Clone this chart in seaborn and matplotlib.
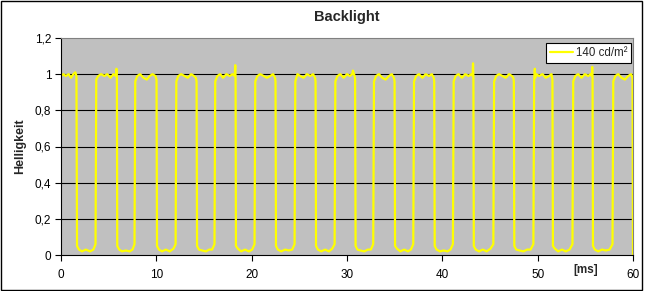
import matplotlib
matplotlib.use("Agg")
import matplotlib.pyplot as plt
import seaborn as sns
import pandas as pd
from matplotlib.patches import Rectangle

# ---------------- data ----------------
time_ms = [
    0.00, 0.25, 0.50, 0.80, 1.05, 1.30, 1.50, 1.62, 1.68,
    1.88, 2.20, 2.60, 3.05, 3.40, 3.62,
    3.70, 3.90, 4.20, 4.55, 4.85, 5.20, 5.50, 5.75, 5.82, 5.86, 5.90,
    6.10, 6.40, 6.80, 7.20, 7.50, 7.71,
    7.79, 8.00, 8.30, 8.65, 9.00, 9.30, 9.60, 9.90, 10.02, 10.07,
    10.27, 10.60, 11.00, 11.40, 11.80, 12.02,
    12.10, 12.30, 12.60, 12.95, 13.30, 13.65, 13.95, 14.15, 14.22, 14.27,
    14.47, 14.80, 15.20, 15.55, 15.85, 16.10,
    16.18, 16.40, 16.70, 17.00, 17.35, 17.70, 18.00, 18.22, 18.28, 18.31, 18.35,
    18.55, 18.90, 19.30, 19.70, 20.05, 20.30,
    20.38, 20.60, 20.90, 21.25, 21.60, 21.95, 22.25, 22.45, 22.50, 22.55,
    22.75, 23.10, 23.50, 23.90, 24.25, 24.50,
    24.58, 24.80, 25.10, 25.45, 25.80, 26.15, 26.45, 26.65, 26.70, 26.75,
    26.95, 27.30, 27.70, 28.10, 28.45, 28.70,
    28.78, 29.00, 29.30, 29.65, 30.00, 30.30, 30.55, 30.62, 30.80, 30.85, 30.90,
    31.10, 31.40, 31.80, 32.20, 32.50, 32.75,
    32.83, 33.05, 33.35, 33.70, 34.05, 34.40, 34.70, 34.92, 34.99, 35.04,
    35.24, 35.60, 36.00, 36.40, 36.70, 36.95,
    37.03, 37.25, 37.55, 37.90, 38.25, 38.60, 38.90, 39.10, 39.15, 39.20,
    39.40, 39.75, 40.15, 40.55, 40.85, 41.11,
    41.19, 41.40, 41.70, 42.05, 42.40, 42.75, 43.05, 43.18, 43.22, 43.26, 43.30,
    43.50, 43.85, 44.25, 44.65, 45.05, 45.35,
    45.43, 45.65, 45.95, 46.30, 46.65, 47.00, 47.30, 47.45, 47.50, 47.55,
    47.75, 48.10, 48.50, 48.90, 49.25, 49.55,
    49.63, 49.70, 49.74, 49.85, 50.15, 50.50, 50.85, 51.20, 51.45, 51.55, 51.60,
    51.80, 52.15, 52.55, 52.95, 53.35, 53.65,
    53.73, 53.95, 54.25, 54.60, 54.95, 55.30, 55.55, 55.68, 55.72, 55.76, 55.80,
    56.00, 56.35, 56.75, 57.15, 57.55, 57.85,
    57.93, 58.15, 58.45, 58.80, 59.15, 59.50, 59.80, 59.95, 60.00,
]

brightness = [
    0.99, 1.00, 0.99, 1.00, 0.98, 1.00, 1.01, 0.99, 0.05,
    0.03, 0.02, 0.03, 0.02, 0.03, 0.06,
    0.97, 0.99, 1.00, 0.99, 1.00, 0.98, 1.00, 0.99, 1.03, 0.98, 0.05,
    0.03, 0.02, 0.025, 0.02, 0.03, 0.06,
    0.96, 0.99, 1.00, 0.98, 0.97, 0.99, 1.00, 0.99, 0.97, 0.05,
    0.03, 0.02, 0.03, 0.02, 0.035, 0.06,
    0.96, 0.99, 1.00, 0.99, 0.98, 1.00, 0.99, 0.98, 0.96, 0.05,
    0.03, 0.025, 0.02, 0.03, 0.03, 0.06,
    0.96, 0.99, 1.00, 0.98, 1.00, 0.99, 1.00, 0.99, 1.05, 0.98, 0.05,
    0.035, 0.02, 0.03, 0.02, 0.03, 0.06,
    0.96, 0.99, 1.00, 0.99, 0.98, 0.99, 1.00, 0.98, 0.96, 0.05,
    0.03, 0.02, 0.03, 0.025, 0.03, 0.06,
    0.96, 1.00, 0.99, 0.98, 1.00, 0.99, 1.00, 0.98, 0.96, 0.05,
    0.03, 0.02, 0.03, 0.02, 0.035, 0.06,
    0.96, 0.99, 1.00, 0.98, 1.00, 0.99, 1.00, 1.02, 0.99, 0.97, 0.05,
    0.03, 0.025, 0.02, 0.03, 0.03, 0.06,
    0.96, 0.99, 1.00, 0.98, 0.97, 0.99, 1.00, 0.98, 0.96, 0.05,
    0.035, 0.02, 0.03, 0.02, 0.03, 0.06,
    0.96, 0.99, 1.00, 0.98, 1.00, 0.99, 1.00, 0.98, 0.96, 0.05,
    0.03, 0.02, 0.025, 0.02, 0.03, 0.06,
    0.96, 0.99, 1.00, 0.98, 1.00, 0.99, 1.00, 0.99, 1.06, 0.98, 0.05,
    0.03, 0.02, 0.03, 0.02, 0.035, 0.06,
    0.96, 0.99, 1.00, 0.99, 0.98, 1.00, 0.99, 0.98, 0.96, 0.05,
    0.03, 0.025, 0.02, 0.03, 0.03, 0.06,
    0.96, 1.03, 0.98, 1.00, 0.99, 1.00, 0.98, 0.99, 1.00, 0.97, 0.05,
    0.035, 0.02, 0.03, 0.02, 0.03, 0.06,
    0.96, 0.99, 1.00, 0.98, 1.00, 0.99, 1.00, 0.99, 1.04, 0.98, 0.05,
    0.03, 0.02, 0.03, 0.025, 0.03, 0.06,
    0.96, 0.99, 1.00, 0.98, 0.97, 0.99, 1.00, 0.98, 0.00,
]

series_label = "140 cd/m²"
x_ticks = [0, 10, 20, 30, 40, 50, 60]
y_ticks = [0, 0.2, 0.4, 0.6, 0.8, 1.0, 1.2]
y_tick_labels = ["0", "0,2", "0,4", "0,6", "0,8", "1", "1,2"]

df = pd.DataFrame({"t": time_ms, "y": brightness})

# ---------------- style ----------------
sns.set_style("white")
plt.rcParams["font.family"] = ["Liberation Sans", "DejaVu Sans"]

W, H = 648, 291
fig = plt.figure(figsize=(W / 100, H / 100), dpi=100)
ax = fig.add_axes([61 / W, 1 - 255 / H, (633 - 61) / W, (255 - 38) / H])
ax.set_facecolor("#C0C0C0")

sns.lineplot(data=df, x="t", y="y", ax=ax, color="#FFFF00", linewidth=1.6,
             sort=False, estimator=None, label=series_label)

ax.set_xlim(0, 60)
ax.set_ylim(0, 1.2)
ax.set_xticks(x_ticks)
ax.set_xticklabels([str(v) for v in x_ticks])
ax.set_yticks(y_ticks)
ax.set_yticklabels(y_tick_labels)

for yv in y_ticks[1:-1]:
    ax.axhline(yv, color="black", linewidth=0.8, zorder=1)

ax.tick_params(axis="both", which="both", direction="out", length=4, width=0.8,
               colors="black", labelsize=8.5, pad=3,
               bottom=True, left=True)
ax.tick_params(axis="x", pad=6)

for s in ["left", "bottom"]:
    ax.spines[s].set_color("black")
    ax.spines[s].set_linewidth(0.8)
for s in ["top", "right"]:
    ax.spines[s].set_color("#808080")
    ax.spines[s].set_linewidth(0.8)

ax.set_xlabel("")
ax.set_ylabel("Helligkeit", fontsize=9, fontweight="bold", labelpad=6)
ax.set_title("Backlight", fontsize=10.5, fontweight="bold", pad=12)

leg = ax.legend(loc="upper right", bbox_to_anchor=(0.997, 0.977),
                borderaxespad=0, fancybox=False, framealpha=1,
                edgecolor="black", fontsize=8.3, handlelength=2.0,
                handletextpad=0.2, borderpad=0.35)
leg.get_frame().set_linewidth(0.8)

fig.text(586 / W, 1 - 270 / H, "[ms]", ha="center", va="center",
         fontsize=8.5, fontweight="bold")

fig.patches.append(Rectangle((0.5 / W, 1.5 / H), 641.5 / W, 288.5 / H,
                             transform=fig.transFigure, fill=False,
                             edgecolor="black", linewidth=1.0))

fig.savefig("out.png", dpi=100)
